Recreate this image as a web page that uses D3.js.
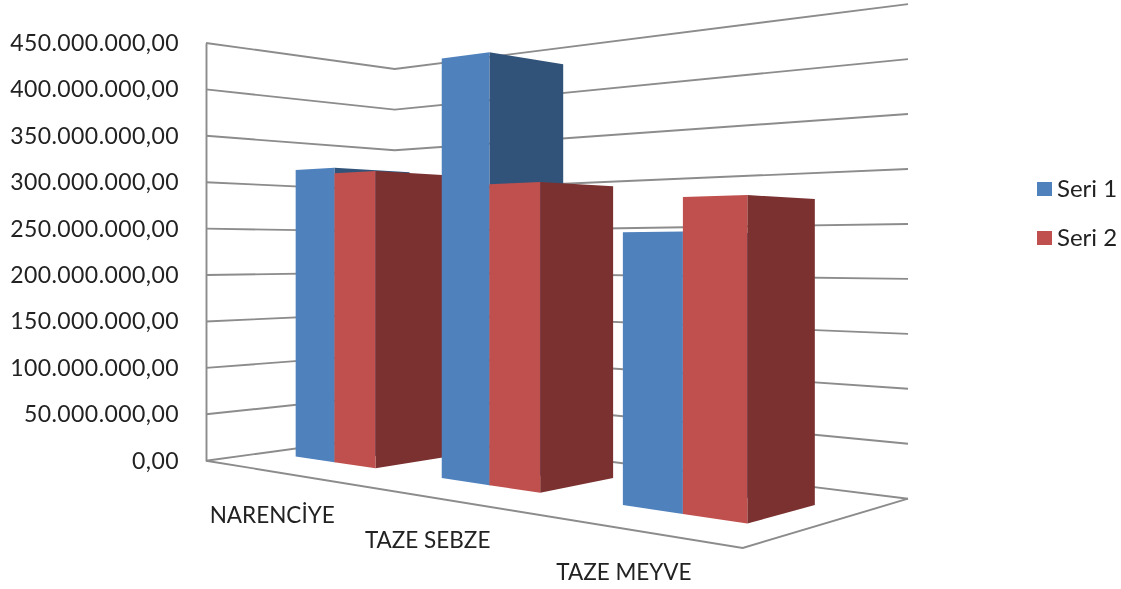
<!DOCTYPE html>
<html>
<head>
<meta charset="utf-8">
<script src="https://cdn.jsdelivr.net/npm/d3@7"></script>
<style>
    html, body { margin: 0; padding: 0; background: #fff; }
    svg { display: block; filter: blur(0.35px); }
    text { font-family: Lato, "Open Sans", sans-serif; fill: #222; }
</style>
</head>
<body>
<svg id="chart" width="1121" height="589"></svg>
<script>
const categories = ['NARENCİYE', 'TAZE SEBZE', 'TAZE MEYVE']
const seriesNames = ['Seri 1', 'Seri 2']
const seri1 = [315000000, 417000000, 242000000]
const seri2 = [309000000, 290000000, 271500000]
const yTicks = [0, 50000000, 100000000, 150000000, 200000000, 250000000, 300000000, 350000000, 400000000, 450000000]

const frontColors = ['#4f81bd', '#c0504d']
const sideColors = ['#325379', '#7b3130']
const gridColor = '#8c8c8c'

const svg = d3.select('#chart')

// floor corners on screen: front left, front right, back right, back left
const floor = [[206, 460.7], [742.7, 548], [908, 498.7], [394.7, 435]]
const wallHeight = 417.7

// square -> floor quad, vertical edges stay vertical
const sx = floor[0][0] - floor[1][0] + floor[2][0] - floor[3][0]
const sy = floor[0][1] - floor[1][1] + floor[2][1] - floor[3][1]
const dx1 = floor[1][0] - floor[2][0]
const dx2 = floor[3][0] - floor[2][0]
const dy1 = floor[1][1] - floor[2][1]
const dy2 = floor[3][1] - floor[2][1]
const det = dx1 * dy2 - dx2 * dy1
const g = (sx * dy2 - dx2 * sy) / det
const h = (dx1 * sy - sx * dy1) / det
const a = floor[1][0] - floor[0][0] + g * floor[1][0]
const b = floor[3][0] - floor[0][0] + h * floor[3][0]
const d = floor[1][1] - floor[0][1] + g * floor[1][1]
const e = floor[3][1] - floor[0][1] + h * floor[3][1]

const yMax = d3.max(yTicks)
const heightScale = d3.scaleLinear().domain([0, yMax]).range([0, wallHeight])

const project = (u, v, value) => {
    const w = 1 + g * u + h * v
    return [
        (a * u + b * v + floor[0][0]) / w,
        (d * u + e * v + floor[0][1] - heightScale(value)) / w
    ]
}

// gap width 150%, gap depth 150%
const gapRatio = 1.5 / 3.5
const x0 = d3.scaleBand().domain(categories).range([0, 1]).paddingInner(gapRatio).paddingOuter(gapRatio / 2)
const x1 = d3.scaleBand().domain(seriesNames).range([0, x0.bandwidth()])
const depth = d3.scaleLinear().domain([0, 1]).range([0.3, 0.7])

const line = d3.line()

// walls and floor
const grid = svg.append('g')
grid.selectAll('path')
    .data(yTicks)
    .join('path')
    .attr('d', t => line([project(0, 0, t), project(0, 1, t), project(1, 1, t)]))
    .attr('fill', 'none')
    .attr('stroke', gridColor)
    .attr('stroke-width', 1.9)

grid.append('path')
    .attr('d', line([project(0, 0, 0), project(1, 0, 0), project(1, 1, 0)]))
    .attr('fill', 'none')
    .attr('stroke', gridColor)
    .attr('stroke-width', 1.9)

// value axis sits on the front edge of the left wall
const yAxisScale = d3.scaleLinear().domain([0, yMax]).range([floor[0][1], floor[0][1] - wallHeight])
const numberLocale = d3.formatLocale({decimal: ',', thousands: '.', grouping: [3], currency: ['', '']})
const yAxis = d3.axisLeft(yAxisScale)
    .tickValues(yTicks)
    .tickFormat(numberLocale.format(',.2f'))
    .tickSize(0)
    .tickPadding(27)

const yAxisG = svg.append('g')
    .attr('transform', `translate(${floor[0][0]},0)`)
    .call(yAxis)
yAxisG.select('.domain').attr('stroke', gridColor).attr('stroke-width', 1.9)
yAxisG.selectAll('text')
    .style('font-family', 'Lato, sans-serif')
    .style('font-size', '23px')
    .style('letter-spacing', '0.43px')
    .style('fill', '#222')

// one box per category and series
const boxes = []
categories.forEach((cat, i) => {
    [seri1, seri2].forEach((values, s) => {
        const u0 = x0(cat) + x1(seriesNames[s])
        boxes.push({s, u0, u1: u0 + x1.bandwidth(), value: values[i]})
    })
})

const bar = svg.append('g')
    .selectAll('g')
    .data(boxes)
    .join('g')

const v0 = depth(0)
const v1 = depth(1)

// side (the top face stays out of view, the camera looks up at it)
bar.append('path')
    .attr('d', b => line([project(b.u1, v0, 0), project(b.u1, v1, 0), project(b.u1, v1, b.value), project(b.u1, v0, b.value)]) + 'Z')
    .attr('fill', b => sideColors[b.s])
// front
bar.append('path')
    .attr('d', b => line([project(b.u0, v0, 0), project(b.u1, v0, 0), project(b.u1, v0, b.value), project(b.u0, v0, b.value)]) + 'Z')
    .attr('fill', b => frontColors[b.s])

// category labels under the front floor edge
svg.append('g')
    .selectAll('text')
    .data(categories)
    .join('text')
    .attr('x', c => project(x0(c) + x0.bandwidth() / 2, 0, 0)[0])
    .attr('y', c => project(x0(c) + x0.bandwidth() / 2, 0, 0)[1] + 43.5)
    .attr('dy', '0.35em')
    .attr('text-anchor', 'middle')
    .style('font-size', '22.5px')
    .text(c => c)

// legend
const legend = svg.append('g')
    .selectAll('g')
    .data(seriesNames)
    .join('g')
    .attr('transform', (n, i) => `translate(1037,${189 + i * 49})`)

legend.append('rect')
    .attr('x', 0)
    .attr('y', -7)
    .attr('width', 15)
    .attr('height', 14)
    .attr('fill', (n, i) => frontColors[i])

legend.append('text')
    .attr('x', 20)
    .attr('dy', '0.35em')
    .style('font-size', '24px')
    .text(n => n)
</script>
</body>
</html>
